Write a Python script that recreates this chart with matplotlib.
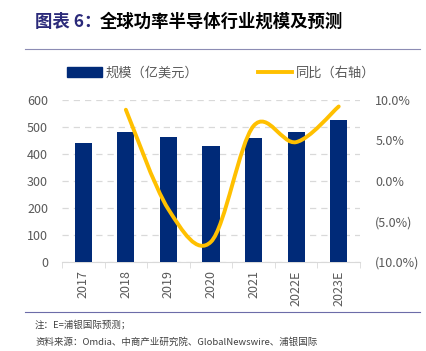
import matplotlib.pyplot as plt
from matplotlib.path import Path
from matplotlib.patches import PathPatch, Patch
from matplotlib.lines import Line2D
import numpy as np

plt.rcParams['font.family'] = ['Noto Sans CJK SC', 'DejaVu Sans']

years = ['2017', '2018', '2019', '2020', '2021', '2022E', '2023E']
size = [441, 480, 463, 430, 458, 480, 525]
yoy = [None, 8.8, -3.5, -7.5, 6.8, 4.8, 9.2]

navy = '#002A78'
gold = '#FFC000'
grey = '#595959'

fig = plt.figure(figsize=(4.26, 3.51), dpi=100)
ax = fig.add_axes([62 / 426, 1 - 262 / 351, 298 / 426, 162 / 351])
x = np.arange(len(years))
ax.bar(x, size, width=0.4, color=navy, zorder=3)
ax.set_xlim(-0.5, len(years) - 0.5)
ax.set_ylim(0, 600)
ax.set_yticks(range(0, 601, 100))
ax.yaxis.grid(True, ls=(0, (5, 4)), color='#D9D9D9', lw=0.9)
for s in ['top', 'right', 'left']:
    ax.spines[s].set_visible(False)
ax.spines['bottom'].set_color('#D9D9D9')
ax.set_xticks(x)
ax.set_xticklabels(years, rotation=90, fontsize=9, color=grey)
ax.set_xticks(np.arange(-0.5, len(years), 1), minor=True)
ax.tick_params(axis='x', which='major', length=0, pad=6)
ax.tick_params(axis='x', which='minor', length=4, color='#D9D9D9')
ax.tick_params(axis='y', length=0, labelsize=9, labelcolor=grey, pad=10)

ax2 = ax.twinx()
ax2.set_ylim(-10, 10)
ax2.set_yticks([-10, -5, 0, 5, 10])
ax2.set_yticklabels(['(10.0%)', '(5.0%)', '0.0%', '5.0%', '10.0%'])
ax2.tick_params(axis='y', length=0, labelsize=9, labelcolor=grey, pad=11)
for s in ax2.spines.values():
    s.set_visible(False)

# smoothed line (Catmull-Rom style bezier through the points)
pts = np.array([(i, v) for i, v in enumerate(yoy) if v is not None], float)
verts = [tuple(pts[0])]
codes = [Path.MOVETO]
n = len(pts)
for i in range(n - 1):
    p0 = pts[max(i - 1, 0)]
    p1 = pts[i]
    p2 = pts[i + 1]
    p3 = pts[min(i + 2, n - 1)]
    c1 = p1 + (p2 - p0) / 6
    c2 = p2 - (p3 - p1) / 6
    verts += [tuple(c1), tuple(c2), tuple(p2)]
    codes += [Path.CURVE4] * 3
ax2.add_patch(PathPatch(Path(verts, codes), fill=False, ec=gold, lw=2.8,
                        capstyle='round', zorder=4))

# title and rules
fig.text(35 / 426, 1 - 22 / 351, '图表 6：', fontsize=12.5, fontweight='bold',
         color='#2B2A7A', va='center')
fig.text(100 / 426, 1 - 22 / 351, '全球功率半导体行业规模及预测', fontsize=12.5,
         fontweight='bold', color='black', va='center')
fig.add_artist(Line2D([25 / 426, 420 / 426], [1 - 49 / 351] * 2, color='#8C8CB4', lw=0.8))
fig.add_artist(Line2D([25 / 426, 420 / 426], [1 - 312 / 351] * 2, color='#6C6CA8', lw=0.8))

handles = [Patch(color=navy), Line2D([], [], color=gold, lw=2.8)]
fig.legend(handles, ['规模（亿美元）', '同比（右轴）'], loc='center',
           bbox_to_anchor=(0.52, 1 - 73 / 351), ncol=2, frameon=False,
           fontsize=9.5, labelcolor=grey, handlelength=2.6, columnspacing=4.5,
           handletextpad=0.3)

fig.text(35 / 426, 1 - 325 / 351, '注：E=浦银国际预测；', fontsize=6.8, color='#404040', va='center')
fig.text(35 / 426, 1 - 342 / 351, '资料来源：Omdia、中商产业研究院、GlobalNewswire、浦银国际',
         fontsize=6.8, color='#404040', va='center')

fig.savefig('out.png', dpi=100)
